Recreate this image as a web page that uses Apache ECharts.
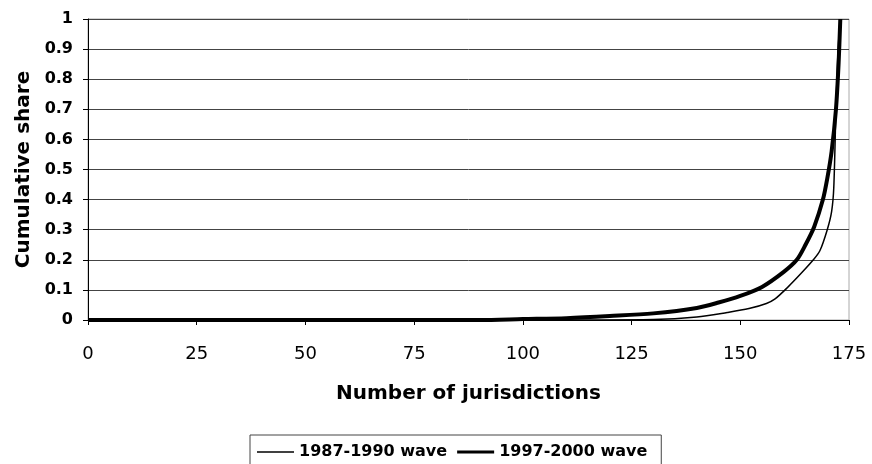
<!DOCTYPE html>
<html>
<head>
<meta charset="utf-8">
<script src="https://cdn.jsdelivr.net/npm/echarts@6/dist/echarts.min.js"></script>
<style>
  html, body { margin: 0; padding: 0; background: #fff; }
  #chart { width: 872px; height: 464px; }
</style>
</head>
<body>
<div id="chart"></div>
<script>
// cumulative share by number of jurisdictions
var wave1987X = [0, 100, 130, 140, 147, 152, 156, 158, 161, 164, 166.8, 168.3, 170, 171, 171.5, 172, 172.5, 173];
var wave1987Y = [0, 0, 0.002, 0.01, 0.025, 0.038, 0.055, 0.07, 0.11, 0.155, 0.2, 0.23, 0.3, 0.36, 0.44, 0.7, 0.9, 1.0];
var wave1997X = [0, 90, 100, 110, 120, 130, 140, 145, 150, 155, 160, 163, 165, 167, 169, 170, 171, 172, 172.6, 173];
var wave1997Y = [0, 0, 0.003, 0.006, 0.013, 0.022, 0.04, 0.058, 0.08, 0.11, 0.16, 0.2, 0.25, 0.31, 0.4, 0.47, 0.56, 0.7, 0.85, 1.0];
var seriesNames = ["1987-1990 wave", "1997-2000 wave"];

function pairs(xs, ys) {
  var out = [];
  for (var i = 0; i < xs.length; i++) {
    out.push([xs[i], ys[i]]);
  }
  return out;
}

var font = "'DejaVu Sans', Verdana, sans-serif";
var chart = echarts.init(document.getElementById("chart"));
var option = {
  animation: false,
  grid: {
    left: 88,
    right: 23,
    top: 19,
    bottom: 144,
    show: true,
    borderColor: "#aaa",
    borderWidth: 1
  },
  legend: {
    left: 250,
    top: 435,
    padding: [9, 14, 9, 7],
    borderColor: "#444",
    borderWidth: 1,
    itemWidth: 37,
    itemHeight: 14,
    itemGap: 10,
    textStyle: { fontFamily: font, fontSize: 16, fontWeight: "bold", color: "#000", padding: [0, 0, 0, 0] },
    data: [
      { name: seriesNames[0], icon: "path://M0,0H37V1.3H0Z" },
      { name: seriesNames[1], icon: "path://M0,0H37V3.2H0Z" }
    ]
  },
  xAxis: {
    type: "value",
    min: 0,
    max: 175,
    interval: 25,
    name: "Number of jurisdictions",
    nameLocation: "middle",
    nameGap: 64,
    nameTextStyle: { fontFamily: font, fontSize: 20, fontWeight: "bold", color: "#000" },
    axisLine: { show: true, lineStyle: { color: "#000", width: 1 } },
    axisTick: { show: true, length: 5, lineStyle: { color: "#000" } },
    axisLabel: { fontFamily: font, fontSize: 18, color: "#000", margin: 25 },
    splitLine: { show: false }
  },
  yAxis: {
    type: "value",
    min: 0,
    max: 1,
    interval: 0.1,
    name: "Cumulative share",
    nameLocation: "middle",
    nameGap: 51,
    nameTextStyle: { fontFamily: font, fontSize: 20, fontWeight: "bold", color: "#000" },
    axisLine: { show: true, lineStyle: { color: "#000", width: 1 } },
    axisTick: { show: true, length: 5, lineStyle: { color: "#000" } },
    axisLabel: {
      fontFamily: font, fontSize: 16, fontWeight: "bold", color: "#000", margin: 15,
      formatter: function(v) { return String(Math.round(v * 10) / 10); }
    },
    splitLine: { show: true, lineStyle: { color: "#444", width: 1 } }
  },
  series: [
    {
      name: seriesNames[0],
      type: "line",
      data: pairs(wave1987X, wave1987Y),
      symbol: "none",
      smooth: 0.3,
      lineStyle: { color: "#000", width: 1.5 },
      itemStyle: { color: "#000" }
    },
    {
      name: seriesNames[1],
      type: "line",
      data: pairs(wave1997X, wave1997Y),
      symbol: "none",
      smooth: 0.3,
      lineStyle: { color: "#000", width: 4 },
      itemStyle: { color: "#000" }
    }
  ]
};
chart.setOption(option);
</script>
</body>
</html>
